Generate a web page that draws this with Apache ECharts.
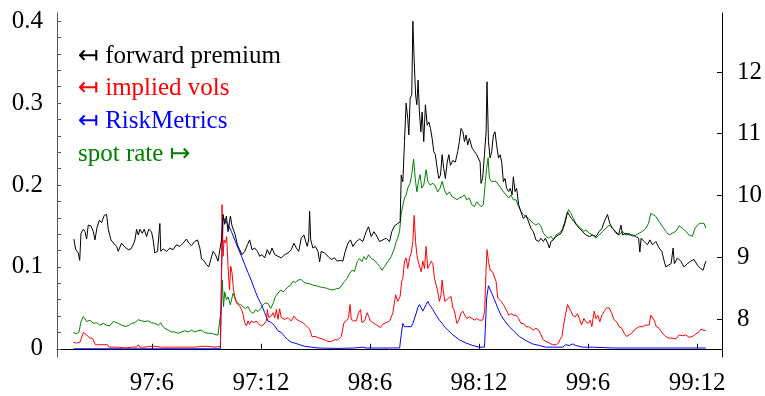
<!DOCTYPE html>
<html>
<head>
<meta charset="utf-8">
<script src="https://cdn.jsdelivr.net/npm/echarts@6.0.0/dist/echarts.min.js"></script>
<style>
  html, body { margin: 0; padding: 0; background: #fff; }
  #chart { width: 765px; height: 396px; }
</style>
</head>
<body>
<div id="chart"></div>
<script>
// x = months counted from Jan 1997 = 1 (97:6 = 6, 98:12 = 24, ...)
const xTicks = [6, 12, 18, 24, 30, 36];
const xLabels = ["97:6", "97:12", "98:6", "98:12", "99:6", "99:12"];
const leftTicks = [0, 0.1, 0.2, 0.3, 0.4];
const leftLabels = ["0", "0.1", "0.2", "0.3", "0.4"];
const leftMinorTicks = [0, 0.02, 0.04, 0.06, 0.08, 0.1, 0.12, 0.14, 0.16, 0.18, 0.2, 0.22, 0.24, 0.26, 0.28, 0.3, 0.32, 0.34, 0.36, 0.38, 0.4];
const rightTicks = [8, 9, 10, 11, 12];
const legendLabels = ["\u21a4 forward premium", "\u21a4 implied vols", "\u21a4 RiskMetrics", "spot rate \u21a6"];

const forwardPremium = [
  [1.71,0.134],[1.81,0.121],[1.95,0.117],[2.03,0.108],[2.10,0.141],[2.23,0.146],[2.32,0.143],[2.41,0.134],[2.50,0.151],[2.65,0.150],
  [2.78,0.143],[2.87,0.133],[2.98,0.148],[3.11,0.157],[3.23,0.154],[3.38,0.163],[3.51,0.164],[3.60,0.146],[3.75,0.133],[3.93,0.128],
  [4.06,0.125],[4.15,0.119],[4.33,0.129],[4.52,0.124],[4.70,0.121],[4.85,0.122],[4.97,0.127],[5.07,0.133],[5.16,0.146],[5.25,0.139],
  [5.34,0.146],[5.47,0.141],[5.58,0.146],[5.71,0.137],[5.83,0.146],[5.98,0.143],[6.07,0.133],[6.16,0.117],[6.31,0.119],[6.44,0.153],
  [6.49,0.119],[6.62,0.122],[6.81,0.119],[6.99,0.123],[7.17,0.121],[7.35,0.127],[7.54,0.125],[7.72,0.129],[7.90,0.134],[8.03,0.129],
  [8.18,0.126],[8.36,0.131],[8.51,0.133],[8.64,0.123],[8.73,0.110],[8.88,0.107],[9.00,0.103],[9.13,0.100],[9.24,0.109],[9.37,0.119],
  [9.50,0.115],[9.64,0.107],[9.74,0.106],[9.83,0.133],[9.92,0.164],[10.01,0.152],[10.10,0.162],[10.19,0.143],[10.32,0.162],[10.41,0.150],
  [10.56,0.141],[10.71,0.127],[10.83,0.121],[10.96,0.115],[11.11,0.119],[11.26,0.127],[11.38,0.133],[11.51,0.121],[11.66,0.123],[11.81,0.119],
  [11.93,0.113],[12.06,0.115],[12.21,0.111],[12.35,0.121],[12.48,0.115],[12.61,0.123],[12.76,0.115],[12.94,0.113],[13.12,0.111],[13.31,0.115],
  [13.49,0.117],[13.67,0.121],[13.82,0.129],[13.95,0.123],[14.08,0.119],[14.22,0.135],[14.37,0.139],[14.44,0.133],[14.55,0.125],[14.63,0.134],
  [14.68,0.168],[14.74,0.133],[14.86,0.123],[14.99,0.125],[15.14,0.119],[15.23,0.106],[15.32,0.119],[15.50,0.117],[15.69,0.113],[15.87,0.109],
  [16.05,0.111],[16.20,0.107],[16.38,0.108],[16.51,0.107],[16.64,0.119],[16.79,0.129],[16.93,0.133],[17.06,0.125],[17.25,0.131],[17.43,0.134],
  [17.61,0.131],[17.79,0.143],[17.92,0.149],[18.07,0.137],[18.22,0.143],[18.34,0.139],[18.53,0.131],[18.71,0.133],[18.89,0.135],[19.08,0.131],
  [19.20,0.143],[19.35,0.150],[19.53,0.153],[19.66,0.155],[19.72,0.212],[19.81,0.204],[19.90,0.253],[19.99,0.300],[20.08,0.281],[20.14,0.261],
  [20.21,0.306],[20.30,0.310],[20.36,0.400],[20.43,0.354],[20.51,0.310],[20.58,0.298],[20.65,0.328],[20.72,0.289],[20.80,0.265],[20.87,0.289],
  [20.96,0.253],[21.05,0.298],[21.15,0.273],[21.24,0.277],[21.33,0.269],[21.42,0.257],[21.51,0.241],[21.60,0.237],[21.70,0.220],[21.79,0.208],
  [21.88,0.212],[21.97,0.237],[22.06,0.220],[22.15,0.208],[22.25,0.228],[22.34,0.237],[22.43,0.224],[22.56,0.230],[22.70,0.228],[22.83,0.241],
  [22.92,0.253],[23.01,0.269],[23.11,0.265],[23.20,0.253],[23.29,0.261],[23.38,0.249],[23.47,0.257],[23.62,0.245],[23.75,0.241],[23.87,0.237],
  [23.98,0.235],[24.06,0.228],[24.11,0.202],[24.20,0.208],[24.30,0.237],[24.39,0.265],[24.44,0.326],[24.52,0.253],[24.61,0.233],[24.70,0.241],
  [24.79,0.261],[24.88,0.265],[24.97,0.249],[25.07,0.233],[25.16,0.237],[25.25,0.228],[25.34,0.204],[25.43,0.208],[25.52,0.196],[25.63,0.192],
  [25.72,0.196],[25.82,0.188],[25.89,0.210],[25.98,0.192],[26.07,0.196],[26.18,0.176],[26.31,0.167],[26.44,0.159],[26.59,0.163],[26.73,0.155],
  [26.86,0.147],[26.99,0.143],[27.13,0.133],[27.28,0.131],[27.41,0.135],[27.54,0.131],[27.65,0.135],[27.78,0.129],[27.87,0.123],[27.96,0.131],
  [28.09,0.133],[28.23,0.137],[28.38,0.139],[28.51,0.141],[28.64,0.147],[28.75,0.155],[28.87,0.167],[28.97,0.163],[29.09,0.159],[29.24,0.155],
  [29.37,0.151],[29.52,0.147],[29.70,0.143],[29.88,0.139],[30.07,0.137],[30.25,0.139],[30.43,0.137],[30.61,0.143],[30.76,0.147],[30.89,0.155],
  [31.07,0.164],[31.20,0.153],[31.35,0.147],[31.53,0.143],[31.68,0.139],[31.81,0.151],[31.90,0.139],[32.08,0.141],[32.26,0.139],[32.45,0.139],
  [32.63,0.137],[32.78,0.135],[32.85,0.118],[32.92,0.135],[33.09,0.131],[33.27,0.127],[33.40,0.133],[33.55,0.127],[33.73,0.131],[33.91,0.123],
  [34.06,0.119],[34.19,0.107],[34.28,0.100],[34.42,0.102],[34.57,0.104],[34.68,0.123],[34.75,0.104],[34.92,0.111],[35.10,0.107],[35.28,0.100],
  [35.47,0.104],[35.65,0.107],[35.83,0.109],[36.02,0.102],[36.20,0.098],[36.33,0.096],[36.48,0.107]
];

const impliedVols = [
  [1.68,0.008],[1.86,0.007],[2.04,0.008],[2.12,0.013],[2.23,0.020],[2.32,0.020],[2.41,0.017],[2.50,0.015],[2.59,0.013],[2.72,0.013],
  [2.83,0.012],[2.90,0.005],[3.05,0.005],[3.23,0.005],[3.42,0.005],[3.56,0.005],[3.64,0.002],[3.88,0.002],[4.15,0.002],[4.52,0.001],
  [4.88,0.002],[5.16,0.002],[5.25,0.005],[5.34,0.002],[5.61,0.002],[5.89,0.003],[6.16,0.003],[6.53,0.002],[6.90,0.002],[7.26,0.002],
  [7.63,0.002],[8.00,0.002],[8.36,0.002],[8.73,0.003],[9.09,0.003],[9.46,0.002],[9.77,0.003],[9.83,0.072],[9.86,0.176],[9.92,0.113],
  [9.97,0.133],[10.05,0.129],[10.12,0.137],[10.19,0.101],[10.27,0.072],[10.34,0.101],[10.41,0.093],[10.49,0.072],[10.56,0.064],[10.65,0.056],
  [10.74,0.054],[10.83,0.052],[10.93,0.048],[11.02,0.042],[11.11,0.032],[11.20,0.028],[11.29,0.034],[11.38,0.030],[11.48,0.034],[11.62,0.032],
  [11.75,0.034],[11.88,0.030],[12.03,0.028],[12.17,0.030],[12.30,0.034],[12.35,0.048],[12.43,0.038],[12.57,0.040],[12.67,0.044],[12.76,0.038],
  [12.85,0.048],[12.94,0.036],[13.03,0.049],[13.12,0.038],[13.31,0.036],[13.49,0.038],[13.67,0.034],[13.82,0.040],[13.95,0.036],[14.13,0.034],
  [14.31,0.032],[14.50,0.028],[14.68,0.024],[14.81,0.015],[14.99,0.015],[15.23,0.013],[15.50,0.011],[15.69,0.009],[15.87,0.009],[16.05,0.011],
  [16.24,0.011],[16.42,0.015],[16.57,0.032],[16.70,0.034],[16.82,0.038],[16.90,0.054],[16.97,0.036],[17.12,0.034],[17.25,0.034],[17.37,0.044],
  [17.48,0.048],[17.56,0.032],[17.70,0.034],[17.85,0.044],[17.92,0.046],[18.03,0.034],[18.16,0.032],[18.29,0.030],[18.44,0.028],[18.58,0.026],
  [18.71,0.030],[18.89,0.032],[19.08,0.034],[19.26,0.044],[19.41,0.066],[19.53,0.058],[19.66,0.064],[19.74,0.082],[19.81,0.086],[19.90,0.107],
  [19.99,0.111],[20.08,0.098],[20.18,0.111],[20.27,0.117],[20.36,0.131],[20.43,0.163],[20.51,0.131],[20.58,0.115],[20.65,0.107],[20.72,0.109],
  [20.82,0.094],[20.91,0.107],[21.00,0.098],[21.09,0.125],[21.18,0.098],[21.27,0.102],[21.37,0.107],[21.46,0.104],[21.55,0.086],[21.64,0.078],
  [21.73,0.070],[21.82,0.058],[21.91,0.066],[21.97,0.084],[22.04,0.070],[22.12,0.058],[22.23,0.058],[22.34,0.062],[22.46,0.064],[22.56,0.050],
  [22.65,0.046],[22.78,0.031],[22.89,0.035],[23.00,0.043],[23.11,0.046],[23.22,0.041],[23.33,0.037],[23.47,0.039],[23.62,0.037],[23.75,0.035],
  [23.87,0.037],[24.02,0.035],[24.20,0.035],[24.31,0.046],[24.39,0.098],[24.44,0.121],[24.52,0.107],[24.61,0.096],[24.75,0.094],[24.86,0.096],
  [24.94,0.082],[25.03,0.062],[25.12,0.062],[25.21,0.058],[25.34,0.054],[25.49,0.048],[25.63,0.041],[25.76,0.043],[25.89,0.041],[26.04,0.041],
  [26.18,0.037],[26.31,0.031],[26.44,0.031],[26.59,0.027],[26.73,0.027],[26.86,0.025],[26.99,0.023],[27.13,0.025],[27.28,0.023],[27.41,0.017],
  [27.54,0.011],[27.68,0.009],[27.87,0.007],[28.05,0.005],[28.23,0.005],[28.38,0.007],[28.45,0.011],[28.56,0.015],[28.64,0.027],[28.75,0.041],
  [28.87,0.054],[28.97,0.052],[29.06,0.046],[29.15,0.041],[29.30,0.039],[29.42,0.043],[29.52,0.037],[29.64,0.029],[29.77,0.037],[29.88,0.033],
  [30.01,0.031],[30.12,0.035],[30.21,0.027],[30.34,0.046],[30.43,0.037],[30.54,0.041],[30.65,0.033],[30.76,0.041],[30.89,0.046],[31.02,0.050],
  [31.16,0.050],[31.31,0.043],[31.44,0.035],[31.57,0.033],[31.71,0.027],[31.86,0.025],[31.99,0.019],[32.12,0.015],[32.26,0.017],[32.41,0.019],
  [32.54,0.023],[32.67,0.025],[32.81,0.027],[33.00,0.027],[33.18,0.029],[33.36,0.029],[33.45,0.041],[33.55,0.043],[33.64,0.035],[33.76,0.027],
  [33.91,0.025],[34.09,0.019],[34.28,0.015],[34.46,0.013],[34.64,0.013],[34.83,0.012],[35.01,0.017],[35.19,0.016],[35.38,0.017],[35.56,0.014],
  [35.74,0.015],[35.93,0.018],[36.11,0.021],[36.20,0.024],[36.33,0.023],[36.48,0.022]
];

const riskMetrics = [
  [1.68,0],[9.77,0],[9.83,0.093],[9.92,0.160],[10.01,0.158],[10.19,0.152],[10.38,0.143],[10.56,0.133],[10.74,0.123],[10.93,0.113],
  [11.11,0.103],[11.29,0.093],[11.48,0.083],[11.66,0.072],[11.84,0.062],[12.03,0.054],[12.21,0.044],[12.39,0.034],[12.57,0.032],[12.76,0.028],
  [12.94,0.022],[13.12,0.020],[13.31,0.015],[13.49,0.011],[13.67,0.008],[13.86,0.007],[14.13,0.005],[14.41,0.003],[14.77,0.002],[15.14,0.001],
  [16.24,0.0005],[17.15,0.001],[17.61,0.002],[17.79,0.001],[18.98,0.001],[19.63,0.001],[19.72,0.017],[19.81,0.031],[19.90,0.027],[19.99,0.029],
  [20.08,0.027],[20.18,0.029],[20.27,0.027],[20.36,0.031],[20.45,0.033],[20.54,0.043],[20.63,0.050],[20.72,0.054],[20.82,0.050],[20.91,0.046],
  [21.00,0.048],[21.09,0.054],[21.18,0.058],[21.27,0.054],[21.46,0.048],[21.64,0.041],[21.82,0.035],[22.01,0.030],[22.10,0.027],[22.28,0.023],
  [22.56,0.017],[22.92,0.011],[23.29,0.007],[23.66,0.004],[24.02,0.002],[24.30,0.002],[24.35,0.025],[24.42,0.062],[24.52,0.077],[24.66,0.070],
  [24.85,0.060],[25.03,0.050],[25.21,0.041],[25.39,0.035],[25.67,0.027],[25.94,0.021],[26.22,0.015],[26.59,0.010],[26.95,0.006],[27.32,0.004],
  [27.68,0.002],[28.05,0.002],[28.60,0.002],[28.78,0.005],[28.97,0.004],[29.15,0.006],[29.33,0.004],[29.70,0.002],[30.25,0.002],[31.35,0.001],
  [36.48,0.001]
];

const spotRate = [
  [1.68,7.78],[1.86,7.76],[1.99,7.79],[2.10,7.96],[2.23,8.04],[2.32,8.01],[2.41,7.96],[2.59,7.98],[2.78,7.93],[2.96,7.94],
  [3.14,7.90],[3.33,7.93],[3.51,7.90],[3.69,7.89],[3.88,7.96],[3.97,7.98],[4.15,7.93],[4.33,7.90],[4.52,7.88],[4.70,7.89],
  [4.88,7.93],[5.07,7.94],[5.25,7.99],[5.43,7.97],[5.61,7.96],[5.80,7.97],[5.98,7.94],[6.16,7.93],[6.35,7.90],[6.49,7.94],
  [6.57,7.89],[6.71,7.85],[6.90,7.82],[7.08,7.79],[7.26,7.79],[7.45,7.77],[7.63,7.79],[7.81,7.81],[8.00,7.79],[8.18,7.82],
  [8.36,7.79],[8.55,7.81],[8.73,7.82],[8.91,7.78],[9.09,7.77],[9.28,7.77],[9.46,7.75],[9.64,7.74],[9.75,7.76],[9.83,8.20],
  [9.88,8.63],[9.94,8.20],[10.01,8.44],[10.10,8.31],[10.19,8.36],[10.32,8.23],[10.47,8.42],[10.60,8.31],[10.74,8.25],[10.89,8.23],
  [11.02,8.20],[11.15,8.17],[11.29,8.20],[11.44,8.12],[11.57,8.09],[11.70,8.15],[11.84,8.12],[11.99,8.17],[12.12,8.23],[12.24,8.26],
  [12.39,8.25],[12.54,8.17],[12.67,8.25],[12.79,8.36],[12.94,8.42],[13.09,8.47],[13.22,8.44],[13.34,8.47],[13.49,8.52],[13.64,8.55],
  [13.76,8.61],[13.89,8.59],[14.04,8.63],[14.22,8.64],[14.37,8.59],[14.50,8.58],[14.68,8.57],[14.86,8.55],[15.05,8.54],[15.23,8.52],
  [15.41,8.51],[15.60,8.50],[15.78,8.48],[15.96,8.47],[16.15,8.49],[16.33,8.50],[16.46,8.55],[16.60,8.61],[16.75,8.66],[16.88,8.74],
  [17.01,8.79],[17.15,8.77],[17.30,8.93],[17.43,8.98],[17.56,8.93],[17.67,9.01],[17.79,8.96],[17.92,9.04],[18.07,8.98],[18.22,8.96],
  [18.40,8.90],[18.53,8.85],[18.66,8.79],[18.80,8.85],[18.98,8.93],[19.17,9.01],[19.35,9.15],[19.44,9.25],[19.53,9.31],[19.63,9.42],
  [19.72,9.71],[19.81,9.74],[19.90,9.96],[19.99,10.01],[20.08,10.12],[20.21,10.20],[20.30,10.34],[20.40,10.59],[20.49,10.28],[20.58,10.06],
  [20.67,10.23],[20.76,10.34],[20.85,10.12],[20.96,10.17],[21.09,10.42],[21.18,10.23],[21.31,10.17],[21.46,10.20],[21.60,10.15],[21.73,10.06],
  [21.86,10.12],[21.97,10.23],[22.10,10.09],[22.23,10.01],[22.37,10.06],[22.52,9.98],[22.65,9.96],[22.78,9.93],[22.92,9.96],[23.07,9.98],
  [23.20,10.01],[23.33,9.93],[23.47,9.96],[23.60,9.85],[23.75,9.82],[23.87,9.90],[23.98,9.93],[24.11,9.82],[24.24,9.85],[24.35,10.23],
  [24.42,10.44],[24.50,10.61],[24.57,10.28],[24.68,10.23],[24.79,10.25],[24.94,10.23],[25.08,10.17],[25.21,10.12],[25.34,10.06],[25.49,10.01],
  [25.63,9.96],[25.76,10.01],[25.89,9.93],[26.04,9.93],[26.18,9.82],[26.31,9.74],[26.44,9.69],[26.59,9.66],[26.73,9.63],[26.86,9.58],
  [26.99,9.55],[27.13,9.52],[27.28,9.55],[27.41,9.50],[27.54,9.39],[27.68,9.34],[27.83,9.31],[27.96,9.34],[28.09,9.28],[28.23,9.36],
  [28.42,9.39],[28.56,9.44],[28.69,9.55],[28.82,9.69],[28.93,9.77],[29.06,9.71],[29.19,9.63],[29.33,9.55],[29.48,9.50],[29.61,9.47],
  [29.74,9.42],[29.88,9.44],[30.07,9.39],[30.25,9.36],[30.43,9.31],[30.61,9.36],[30.80,9.42],[30.98,9.47],[31.16,9.52],[31.35,9.47],
  [31.53,9.39],[31.71,9.36],[31.90,9.42],[32.08,9.36],[32.26,9.39],[32.45,9.34],[32.63,9.36],[32.81,9.39],[33.00,9.42],[33.18,9.47],
  [33.33,9.55],[33.45,9.71],[33.58,9.69],[33.73,9.66],[33.91,9.58],[34.09,9.50],[34.28,9.42],[34.46,9.36],[34.64,9.39],[34.83,9.42],
  [35.01,9.51],[35.19,9.47],[35.38,9.42],[35.56,9.36],[35.74,9.34],[35.89,9.47],[36.02,9.52],[36.15,9.55],[36.26,9.52],[36.38,9.55],
  [36.48,9.47]
];

const serif = '"Liberation Serif", "Times New Roman", serif';
const axisColor = "#000";

function labelFor(values, labels) {
  return function (v) {
    for (let i = 0; i < values.length; i++) {
      if (Math.abs(values[i] - v) < 1e-6) return labels[i];
    }
    return "";
  };
}

const chart = echarts.init(document.getElementById("chart"));
const legendColors = ["#000000", "#ff0000", "#0000ff", "#008000"];
const legendY = [56, 88, 121, 154];

chart.setOption({
  animation: false,
  grid: { left: 57, right: 42, top: 13, bottom: 39 },
  xAxis: {
    type: "value",
    min: 0.78,
    max: 37.37,
    axisLine: { lineStyle: { color: axisColor, width: 1 } },
    axisTick: { customValues: xTicks, inside: true, length: 5, lineStyle: { color: axisColor } },
    axisLabel: {
      customValues: xTicks,
      formatter: labelFor(xTicks, xLabels),
      color: "#000",
      fontFamily: serif,
      fontSize: 25,
      margin: 14
    },
    splitLine: { show: false }
  },
  yAxis: [
    {
      type: "value",
      min: -0.01,
      max: 0.41,
      axisLine: { show: true, lineStyle: { color: "#555", width: 1 } },
      axisTick: { show: true, customValues: leftMinorTicks, inside: true, length: 4, lineStyle: { color: "#555" } },
      axisLabel: {
        customValues: leftTicks,
        formatter: labelFor(leftTicks, leftLabels),
        color: "#000",
        fontFamily: serif,
        fontSize: 25,
        margin: 14
      },
      splitLine: { show: false }
    },
    {
      type: "value",
      min: 7.385,
      max: 12.955,
      position: "right",
      axisLine: { show: true, lineStyle: { color: axisColor, width: 1 } },
      axisTick: { show: true, customValues: rightTicks, inside: true, length: 5, lineStyle: { color: axisColor } },
      axisLabel: {
        customValues: rightTicks,
        formatter: function (v) { return String(v); },
        color: "#000",
        fontFamily: serif,
        fontSize: 25,
        margin: 15
      },
      splitLine: { show: false }
    }
  ],
  graphic: legendLabels.map(function (t, i) {
    return {
      type: "text",
      x: 78,
      y: legendY[i],
      style: {
        text: t,
        fill: legendColors[i],
        font: '25px "Liberation Serif", "DejaVu Sans", serif',
        verticalAlign: "middle"
      }
    };
  }),
  series: [
    { name: "spot rate", type: "line", yAxisIndex: 1, data: spotRate, showSymbol: false,
      lineStyle: { color: "#008000", width: 1 }, z: 2 },
    { name: "RiskMetrics", type: "line", data: riskMetrics, showSymbol: false,
      lineStyle: { color: "#0000ff", width: 1 }, z: 3 },
    { name: "implied vols", type: "line", data: impliedVols, showSymbol: false,
      lineStyle: { color: "#ff0000", width: 1 }, z: 4 },
    { name: "forward premium", type: "line", data: forwardPremium, showSymbol: false,
      lineStyle: { color: "#000000", width: 1 }, z: 5 }
  ]
});
</script>
</body>
</html>
